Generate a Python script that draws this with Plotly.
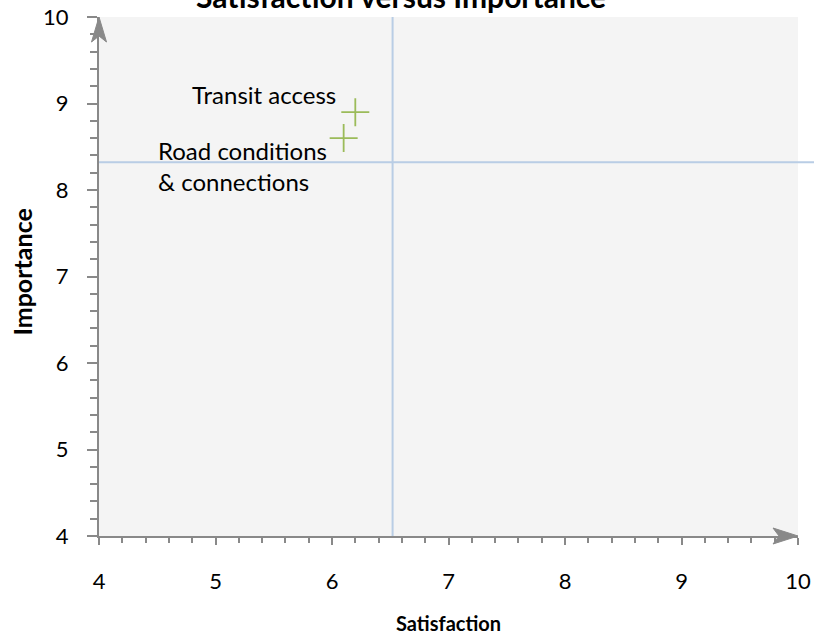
import plotly.graph_objects as go

# ---- data ----
item_names = ["Transit access", "Road conditions<br>& connections"]
satisfaction = [6.2, 6.1]
importance = [8.9, 8.6]
mean_satisfaction = 6.52
mean_importance = 8.32
x_ticks = [4, 5, 6, 7, 8, 9, 10]
y_ticks = [4, 5, 6, 7, 8, 9, 10]

AXIS = "#898989"
REF = "#b9cde5"
GREEN = "#9bbb59"
FONT = "Lato"

fig = go.Figure()
fig.add_trace(go.Scatter(
    x=satisfaction, y=importance, mode="markers",
    marker=dict(symbol="cross-thin-open", size=20,
                line=dict(color=GREEN, width=1.8), color=GREEN),
    hoverinfo="skip", showlegend=False, cliponaxis=False,
))

# reference lines (means)
fig.add_shape(type="line", xref="paper", yref="y", x0=0, x1=1.03,
              y0=mean_importance, y1=mean_importance,
              line=dict(color=REF, width=2))
fig.add_shape(type="line", xref="x", yref="paper", x0=mean_satisfaction,
              x1=mean_satisfaction, y0=0, y1=1,
              line=dict(color=REF, width=2))

# arrow heads at axis ends
fig.add_shape(type="path", xref="paper", yref="paper", xsizemode="pixel",
              ysizemode="pixel", xanchor=1, yanchor=0,
              path="M0,0 L-25,8 L-19,0 L-25,-8 Z",
              fillcolor=AXIS, line=dict(color=AXIS, width=1))
fig.add_shape(type="path", xref="paper", yref="paper", xsizemode="pixel",
              ysizemode="pixel", xanchor=0, yanchor=1,
              path="M0,0 L-7.5,-25 L0,-19 L7.5,-25 Z",
              fillcolor=AXIS, line=dict(color=AXIS, width=1))

# point labels
fig.add_annotation(x=satisfaction[0], y=importance[0], text=item_names[0],
                   showarrow=False, xanchor="right", yanchor="middle",
                   xshift=-17, yshift=18,
                   font=dict(family=FONT, size=24, color="#000"))
fig.add_annotation(x=satisfaction[1], y=importance[1], text=item_names[1],
                   showarrow=False, xanchor="right", yanchor="middle",
                   align="left", xshift=-15, yshift=-28,
                   font=dict(family=FONT, size=24, color="#000"))

# title (partly cut off at top)
fig.add_annotation(xref="paper", yref="paper", x=0.432, y=1,
                   xanchor="center", yanchor="bottom", yshift=1,
                   text="<b>Satisfaction versus Importance</b>", showarrow=False,
                   font=dict(family=FONT, size=30, color="#000"))
# axis titles
fig.add_annotation(xref="paper", yref="paper", x=0.5, y=0, yshift=-(623 - 536),
                   xanchor="center", yanchor="middle",
                   text="<b>Satisfaction</b>", showarrow=False,
                   font=dict(family=FONT, size=20, color="#000"))
fig.add_annotation(xref="paper", yref="paper", x=0, y=0.5, xshift=-(99 - 21),
                   yshift=4,
                   xanchor="center", yanchor="middle", textangle=-90,
                   text="<b>Importance</b>", showarrow=False,
                   font=dict(family=FONT, size=25, color="#000"))

fig.update_layout(
    width=814, height=638,
    margin=dict(l=99, r=16, t=17, b=102, autoexpand=False),
    paper_bgcolor="white", plot_bgcolor="#f4f4f4",
    font=dict(family=FONT, size=22, color="#000"),
    xaxis=dict(range=[4, 10], tickvals=x_ticks, ticktext=[str(v) for v in x_ticks],
               automargin=False,
               showgrid=False, zeroline=False, showline=True, linecolor=AXIS,
               linewidth=2, ticks="outside", ticklen=7, tickwidth=2, tickcolor=AXIS,
               ticklabelstandoff=18,
               minor=dict(dtick=0.2, ticks="outside", ticklen=5, tickwidth=2,
                          tickcolor=AXIS, showgrid=False),
               tickfont=dict(family=FONT, size=22, color="#000")),
    yaxis=dict(range=[4, 10], tickvals=y_ticks, ticktext=[str(v) for v in y_ticks],
               automargin=False,
               showgrid=False, zeroline=False, showline=True, linecolor=AXIS,
               linewidth=2, ticks="outside", ticklen=10, tickwidth=2, tickcolor=AXIS,
               ticklabelstandoff=14,
               minor=dict(dtick=0.2, ticks="outside", ticklen=7, tickwidth=2,
                          tickcolor=AXIS, showgrid=False),
               tickfont=dict(family=FONT, size=22, color="#000")),
)

fig.write_html("out.html",
               config={"displayModeBar": False, "staticPlot": True},
               post_script="document.body.style.margin='0';"
                           "document.body.style.overflow='hidden';")
